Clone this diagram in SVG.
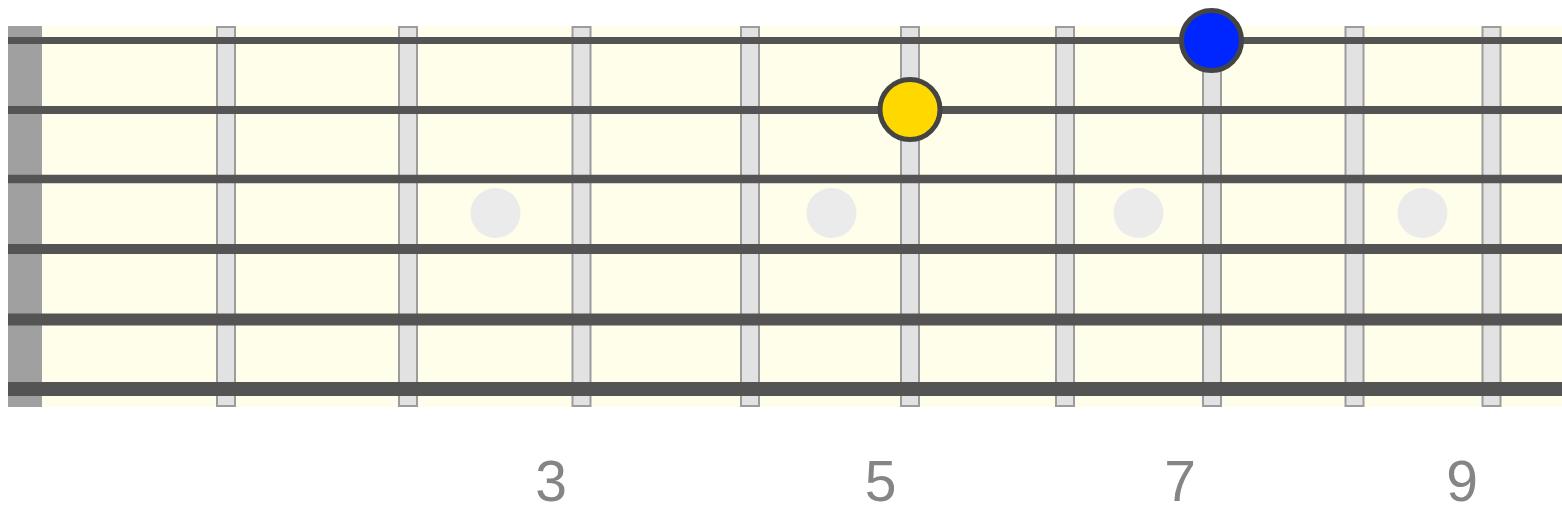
<svg xmlns="http://www.w3.org/2000/svg" width="1562" height="509" viewBox="0 0 1562 509">
<style>
.fret{fill:#e2e2e2;stroke:#9c9c9c;stroke-width:2}
.inlay{fill:#ebebeb}
.str{stroke:#545454}
.note{stroke:#444;stroke-width:5}
.num{font-family:"Liberation Sans",Arial,sans-serif;font-size:57px;fill:#858585;text-anchor:middle}
</style>
<g id="board">
<rect x="8" y="26" width="1554" height="381" fill="#fffeea"/>
<rect id="nut" x="8" y="26" width="34" height="381" fill="#a0a0a0"/>
</g>
<g id="frets">
<rect class="fret" x="217" y="27" width="18" height="379"/>
<rect class="fret" x="399" y="27" width="18" height="379"/>
<rect class="fret" x="572.5" y="27" width="18" height="379"/>
<rect class="fret" x="741" y="27" width="18" height="379"/>
<rect class="fret" x="901" y="27" width="18" height="379"/>
<rect class="fret" x="1056" y="27" width="18" height="379"/>
<rect class="fret" x="1203" y="27" width="18" height="379"/>
<rect class="fret" x="1345.5" y="27" width="18" height="379"/>
<rect class="fret" x="1482.5" y="27" width="18" height="379"/>
</g>
<g id="inlays">
<circle class="inlay" cx="495.5" cy="213" r="25"/>
<circle class="inlay" cx="831.5" cy="213" r="25"/>
<circle class="inlay" cx="1138.5" cy="213" r="25"/>
<circle class="inlay" cx="1422.5" cy="213" r="25"/>
</g>
<g id="strings">
<line class="str" x1="8" y1="40.5" x2="1562" y2="40.5" stroke-width="7"/>
<line class="str" x1="8" y1="110" x2="1562" y2="110" stroke-width="8"/>
<line class="str" x1="8" y1="179" x2="1562" y2="179" stroke-width="8.5"/>
<line class="str" x1="8" y1="249" x2="1562" y2="249" stroke-width="10"/>
<line class="str" x1="8" y1="319.5" x2="1562" y2="319.5" stroke-width="12"/>
<line class="str" x1="8" y1="389" x2="1562" y2="389" stroke-width="14"/>
</g>
<g id="note-yellow">
<circle class="note" cx="910" cy="109.5" r="30" fill="#ffd800"/>
</g>
<g id="note-blue">
<circle class="note" cx="1211.5" cy="40.5" r="30" fill="#0026ff"/>
</g>
<g id="labels">
<text class="num" x="551" y="501">3</text>
<text class="num" x="880.5" y="501">5</text>
<text class="num" x="1180" y="501">7</text>
<text class="num" x="1462" y="501">9</text>
</g>
</svg>
